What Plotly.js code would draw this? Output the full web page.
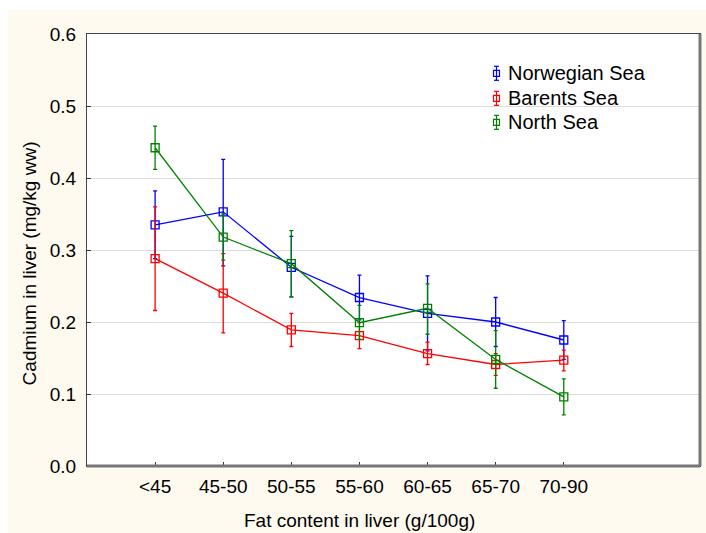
<!DOCTYPE html>
<html>
<head>
<meta charset="utf-8">
<script src="https://cdn.plot.ly/plotly-3.0.1.min.js"></script>
<style>
  html, body { margin: 0; padding: 0; background: #ffffff; }
  #chart { position: absolute; left: 8px; top: 10px; width: 698px; height: 523px; }
</style>
</head>
<body>
<div id="chart"></div>
<script>
// Fat-content classes of the liver (g/100g)
const categories = ['<45', '45-50', '50-55', '55-60', '60-65', '65-70', '70-90'];

// Mean cadmium in liver (mg/kg ww) per sea area
const norwegianSea = [0.335, 0.353, 0.276, 0.234, 0.212, 0.200, 0.175];
const barentsSea   = [0.288, 0.240, 0.189, 0.181, 0.156, 0.141, 0.147];
const northSea     = [0.442, 0.318, 0.281, 0.199, 0.219, 0.148, 0.096];

// Error bar half-widths (upper / lower)
const norwegianErrUp   = [0.047, 0.073, 0.043, 0.031, 0.052, 0.034, 0.027];
const norwegianErrDown = [0.047, 0.075, 0.041, 0.031, 0.052, 0.034, 0.027];
const barentsErrUp     = [0.072, 0.055, 0.023, 0.018, 0.016, 0.015, 0.014];
const barentsErrDown   = [0.072, 0.055, 0.023, 0.018, 0.015, 0.015, 0.015];
const northErrUp       = [0.030, 0.032, 0.046, 0.024, 0.034, 0.040, 0.025];
const northErrDown     = [0.030, 0.032, 0.046, 0.023, 0.036, 0.040, 0.025];

const seriesNames = ['Norwegian Sea', 'Barents Sea', 'North Sea'];
const seriesColors = ['#0000ff', '#ff0000', '#008000'];
const yTicks = [0, 0.1, 0.2, 0.3, 0.4, 0.5, 0.6];

const FONT = 'Liberation Sans, Arial, sans-serif';
const xIdx = categories.map((_, i) => i);

function series(name, y, up, down, color) {
  return {
    type: 'scatter',
    mode: 'lines+markers',
    name: name,
    x: xIdx,
    y: y,
    line: { color: color, width: 1.3 },
    marker: { symbol: 'square-open', size: 8, color: color, line: { width: 1.3, color: color } },
    error_y: {
      type: 'data', symmetric: false,
      array: up, arrayminus: down,
      color: color, thickness: 1.3, width: 2
    },
    showlegend: false
  };
}

const traces = [
  series(seriesNames[0], norwegianSea, norwegianErrUp, norwegianErrDown, seriesColors[0]),
  series(seriesNames[1], barentsSea, barentsErrUp, barentsErrDown, seriesColors[1]),
  series(seriesNames[2], northSea, northErrUp, northErrDown, seriesColors[2])
];

// Legend key: point symbol with its error bar, followed by the series name
const keyX = 0.668;          // paper x of the key symbols
const keyTextX = 0.684;      // paper x where the names start
const keyY = [0.909, 0.851, 0.7955];
const keyShapes = [];
const keyLabels = [];
seriesNames.forEach((name, i) => {
  const c = seriesColors[i];
  const base = { xref: 'paper', yref: 'paper', xsizemode: 'pixel', ysizemode: 'pixel',
                 xanchor: keyX, yanchor: keyY[i] };
  keyShapes.push(Object.assign({ type: 'line', x0: 0, x1: 0, y0: -7, y1: 7, line: { color: c, width: 1.2 } }, base));
  keyShapes.push(Object.assign({ type: 'line', x0: -2.5, x1: 2.5, y0: 7, y1: 7, line: { color: c, width: 1.2 } }, base));
  keyShapes.push(Object.assign({ type: 'line', x0: -2.5, x1: 2.5, y0: -7, y1: -7, line: { color: c, width: 1.2 } }, base));
  keyShapes.push(Object.assign({ type: 'rect', x0: -3, x1: 3, y0: -3, y1: 3, line: { color: c, width: 1.2 }, fillcolor: 'rgba(0,0,0,0)' }, base));
  keyLabels.push({ text: name, xref: 'paper', yref: 'paper', x: keyTextX, y: keyY[i],
                   xanchor: 'left', yanchor: 'middle', showarrow: false,
                   font: { family: FONT, size: 20, color: '#000' } });
});

const layout = {
  width: 698, height: 523,
  margin: { l: 79, r: 6, t: 24, b: 67 },
  paper_bgcolor: '#fefaf0',
  plot_bgcolor: '#ffffff',
  font: { family: FONT, size: 19, color: '#000000' },
  showlegend: false,
  xaxis: {
    range: [-1, 8],
    tickmode: 'array', tickvals: xIdx, ticktext: categories,
    ticks: 'inside', ticklen: 4, tickcolor: '#333',
    showgrid: false, zeroline: false,
    showline: true, linecolor: '#444', linewidth: 1, mirror: true,
    tickfont: { family: FONT, size: 19 },
    ticklabelstandoff: 3
  },
  yaxis: {
    range: [0, 0.6],
    tickmode: 'array', tickvals: yTicks, ticktext: yTicks.map(v => v.toFixed(1)),
    ticks: 'inside', ticklen: 4, tickcolor: '#333',
    showgrid: true, gridcolor: '#dcdcdc', gridwidth: 1,
    zeroline: false,
    showline: true, linecolor: '#444', linewidth: 1, mirror: true,
    tickfont: { family: FONT, size: 19 },
    ticklabelstandoff: 6
  },
  shapes: [
    // drop shadow along the right and bottom frame edges
    { type: 'line', xref: 'paper', yref: 'paper', x0: 1, x1: 1, y0: 0, y1: 1, line: { color: '#777', width: 3 } },
    { type: 'line', xref: 'paper', yref: 'paper', x0: 0, x1: 1, y0: 0, y1: 0, line: { color: '#777', width: 3 } }
  ].concat(keyShapes),
  annotations: [
    { text: 'Fat content in liver (g/100g)', xref: 'x', yref: 'paper', x: 3, y: 0,
      yshift: -54, showarrow: false, font: { family: FONT, size: 19 }, xanchor: 'center', yanchor: 'middle' },
    { text: 'Cadmium in liver (mg/kg ww)', xref: 'paper', yref: 'paper', x: 0, y: 0.469,
      xshift: -58, textangle: -90, showarrow: false, font: { family: FONT, size: 19 }, xanchor: 'center', yanchor: 'middle' }
  ].concat(keyLabels)
};

Plotly.newPlot('chart', traces, layout, { displayModeBar: false, staticPlot: true });
</script>
</body>
</html>
